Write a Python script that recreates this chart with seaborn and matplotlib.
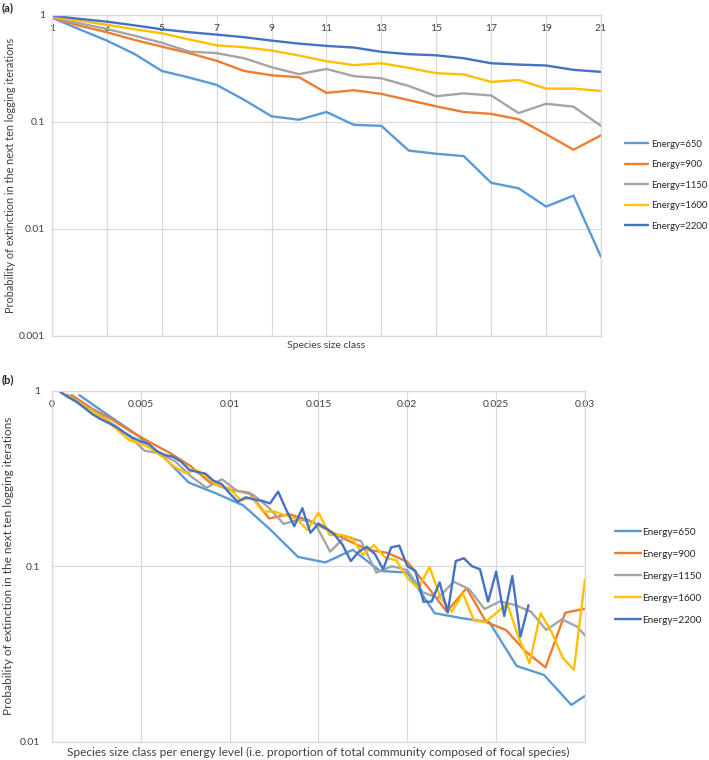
import numpy as np
import pandas as pd
import seaborn as sns
import matplotlib.pyplot as plt

sns.set_theme(style="white")
plt.rcParams['font.family'] = ['Lato', 'DejaVu Sans']

# extinction probability per species size class (class 1, 2, 3, ...)
p650 = [0.944, 0.735, 0.576, 0.433, 0.30, 0.26, 0.222, 0.161, 0.113, 0.105, 0.124,
        0.094, 0.092, 0.054, 0.0505, 0.048, 0.027, 0.024, 0.0162, 0.0205, 0.0055]
p900 = [0.944, 0.795, 0.69, 0.585, 0.506, 0.44, 0.373, 0.30, 0.273, 0.262, 0.187,
        0.198, 0.183, 0.16, 0.14, 0.124, 0.119, 0.106, 0.077, 0.055, 0.075,
        0.048, 0.0433, 0.0326, 0.0265, 0.0543, 0.0573]
p1150 = [0.95, 0.836, 0.74, 0.64, 0.55, 0.455, 0.44, 0.394, 0.325, 0.28, 0.313,
         0.268, 0.256, 0.217, 0.174, 0.185, 0.177, 0.121, 0.148, 0.139, 0.092,
         0.1, 0.095, 0.071, 0.066, 0.0816, 0.074, 0.057, 0.063, 0.060, 0.055,
         0.0433, 0.0498, 0.0452, 0.036]
p1600 = [0.965, 0.885, 0.81, 0.735, 0.675, 0.59, 0.52, 0.50, 0.465, 0.418, 0.37,
         0.34, 0.354, 0.32, 0.286, 0.278, 0.237, 0.247, 0.205, 0.205, 0.195,
         0.187, 0.161, 0.202, 0.151, 0.151, 0.145, 0.116, 0.132, 0.112, 0.108,
         0.086, 0.0748, 0.099, 0.066, 0.055, 0.070, 0.049, 0.048, 0.054, 0.061,
         0.0397, 0.028, 0.054, 0.042, 0.030, 0.0257, 0.084]
p2200 = [0.985, 0.92, 0.866, 0.80, 0.735, 0.69, 0.655, 0.62, 0.576, 0.54, 0.514,
         0.496, 0.452, 0.43, 0.42, 0.394, 0.354, 0.344, 0.337, 0.307, 0.294,
         0.26, 0.233, 0.247, 0.24, 0.236, 0.228, 0.266, 0.21, 0.169, 0.214,
         0.155, 0.175, 0.164, 0.151, 0.132, 0.107, 0.121, 0.129, 0.117, 0.096,
         0.128, 0.131, 0.1, 0.094, 0.0628, 0.0628, 0.081, 0.0545, 0.107, 0.111,
         0.1, 0.096, 0.0628, 0.093, 0.052, 0.088, 0.0397, 0.060]

energies = [650, 900, 1150, 1600, 2200]
series = [p650, p900, p1150, p1600, p2200]
colors = ["#5B9BD5", "#ED7D31", "#A5A5A5", "#FFC000", "#4472C4"]
labels = [f"Energy={e}" for e in energies]
max_class_a = 21

rows = []
for e, lab, vals in zip(energies, labels, series):
    for k, v in enumerate(vals, start=1):
        rows.append({"energy": lab, "size_class": k, "rel_size": k / e, "prob": v})
df = pd.DataFrame(rows)
df_a = df[df["size_class"] <= max_class_a]

palette = dict(zip(labels, colors))
grid_col = "#D9D9D9"
txt_col = "#404040"

fig = plt.figure(figsize=(7.09, 7.6), dpi=100)
ax_a = fig.add_axes([0.0733, 0.5579, 0.7743, 0.4224])
ax_b = fig.add_axes([0.0733, 0.0241, 0.7518, 0.4618])

sns.lineplot(data=df_a, x="size_class", y="prob", hue="energy", hue_order=labels,
             palette=palette, lw=1.7, ax=ax_a)
sns.lineplot(data=df, x="rel_size", y="prob", hue="energy", hue_order=labels,
             palette=palette, lw=1.7, ax=ax_b)

for ax in (ax_a, ax_b):
    ax.set_yscale("log")
    ax.yaxis.set_minor_locator(plt.NullLocator())
    ax.grid(True, color=grid_col, lw=0.9)
    for s in ax.spines.values():
        s.set_color(grid_col)
        s.set_linewidth(0.9)
    ax.tick_params(axis="both", length=0, labelsize=7.5, colors=txt_col)
    ax.tick_params(axis="x", bottom=False, labelbottom=False, labeltop=True, pad=-13)

# panel a
ax_a.set_xlim(1, 21)
ax_a.set_xticks(range(1, 22, 2))
ax_a.set_ylim(0.001, 1)
ax_a.set_yticks([0.001, 0.01, 0.1, 1])
ax_a.set_yticklabels(["0.001", "0.01", "0.1", "1"])
ax_a.tick_params(axis="y", pad=5)
ax_a.set_xlabel("Species size class", fontsize=7.5, color=txt_col)
ax_a.set_ylabel("Probability of extinction in the next ten logging iterations",
                fontsize=7.8, color=txt_col)
ax_a.xaxis.set_label_coords(0.5, -0.016)
ax_a.yaxis.set_label_coords(-0.065, 0.5)
sns.move_legend(ax_a, "center left", bbox_to_anchor=(1.0437, 0.47), title=None,
                frameon=False, borderpad=0, borderaxespad=0, handlelength=2.45,
                handletextpad=0.3, labelspacing=1.22, fontsize=6.8)

# panel b
ax_b.set_xlim(0, 0.03)
ax_b.set_xticks([0, 0.005, 0.01, 0.015, 0.02, 0.025, 0.03])
ax_b.set_xticklabels(["0", "0.005", "0.01", "0.015", "0.02", "0.025", "0.03"])
ax_b.set_ylim(0.01, 1)
ax_b.set_yticks([0.01, 0.1, 1])
ax_b.set_yticklabels(["0.01", "0.1", "1"])
ax_b.tick_params(axis="y", pad=8.5)
ax_b.set_xlabel("Species size class per energy level (i.e. proportion of total community composed of focal species)",
                fontsize=8.6, color=txt_col)
ax_b.set_ylabel("Probability of extinction in the next ten logging iterations",
                fontsize=8.6, color=txt_col)
ax_b.xaxis.set_label_coords(0.5, -0.016)
ax_b.yaxis.set_label_coords(-0.071, 0.5)
sns.move_legend(ax_b, "center left", bbox_to_anchor=(1.056, 0.472), title=None,
                frameon=False, borderpad=0, borderaxespad=0, handlelength=2.6,
                handletextpad=0.15, labelspacing=1.3, fontsize=7.2)

fig.text(0.002, 1 - 8 / 760, "(a)", fontsize=8, weight="bold", va="center")
fig.text(0.002, 1 - 380 / 760, "(b)", fontsize=8, weight="bold", va="center")

fig.savefig("out.png", dpi=100)
